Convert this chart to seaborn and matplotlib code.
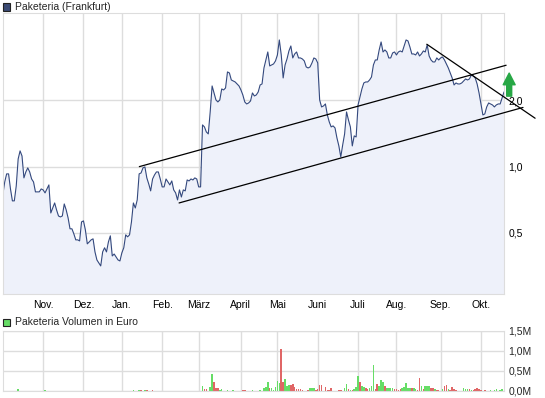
import numpy as np
import pandas as pd
import matplotlib
matplotlib.use('Agg')
import matplotlib.pyplot as plt
import seaborn as sns
from matplotlib.patches import Rectangle

# Schlusskurse je Handelstag (Euro)
price = [
    0.744, 0.852, 0.927, 0.927, 0.792, 0.699, 0.699, 0.817, 1.084, 1.179,
    1.118, 0.889, 0.946, 0.987, 0.946, 0.879, 0.852, 0.768, 0.768, 0.768,
    0.792, 0.784, 0.760, 0.792, 0.826, 0.616, 0.649, 0.684, 0.636, 0.597,
    0.591, 0.597, 0.677, 0.636, 0.585, 0.522, 0.522, 0.495, 0.465, 0.465,
    0.460, 0.561, 0.567, 0.516, 0.446, 0.455, 0.465, 0.470, 0.410, 0.377,
    0.365, 0.354, 0.410, 0.428, 0.410, 0.455, 0.485, 0.393, 0.401, 0.389,
    0.377, 0.373, 0.406, 0.428, 0.490, 0.480, 0.490, 0.561, 0.684, 0.649,
    0.706, 0.927, 0.936, 0.987, 0.997, 0.889, 0.834, 0.776, 0.879, 0.917,
    0.946, 0.946, 0.879, 0.809, 0.809, 0.879, 0.852, 0.826, 0.861, 0.784,
    0.760, 0.706, 0.784, 0.728, 0.784, 0.776, 0.870, 0.861, 0.879, 0.870,
    0.889, 0.879, 0.809, 0.809, 1.547, 1.515, 1.437, 1.408, 1.772, 2.325,
    2.161, 2.008, 1.967, 2.008, 2.253, 2.230, 2.277, 2.692, 2.664, 2.475,
    2.450, 2.424, 2.374, 2.325, 2.230, 2.116, 1.967, 1.926, 1.946, 1.987,
    2.161, 2.094, 2.116, 2.183, 2.349, 2.374, 2.806, 3.051, 3.317, 2.866,
    2.896, 2.927, 3.020, 3.215, 3.761, 3.215, 2.528, 2.896, 3.083, 3.352,
    3.532, 3.116, 3.249, 3.317, 3.116, 3.116, 3.083, 3.020, 2.836, 2.806,
    2.836, 2.957, 3.116, 3.083, 2.957, 2.008, 1.867, 1.886, 1.926, 1.717,
    1.596, 1.515, 1.531, 1.499, 1.350, 1.242, 1.107, 1.255, 1.408, 1.772,
    1.629, 1.515, 1.242, 1.379, 1.364, 1.906, 2.072, 2.253, 2.399, 2.424,
    2.424, 2.475, 2.554, 2.896, 3.051, 3.051, 3.388, 3.683, 3.317, 3.388,
    3.317, 3.116, 3.116, 3.283, 3.317, 3.215, 3.317, 3.352, 3.317, 3.532,
    3.761, 3.722, 3.495, 3.249, 3.249, 3.215, 3.317, 3.181, 3.249, 3.352,
    3.317, 3.570, 3.181, 3.051, 2.988, 2.988, 3.116, 3.051, 3.116, 3.148,
    3.051, 2.927, 2.806, 2.664, 2.528, 2.349, 2.399, 2.374, 2.374, 2.399,
    2.450, 2.502, 2.475, 2.502, 2.608, 2.581, 2.528, 2.374, 2.161, 1.926,
    1.717, 1.735, 1.867, 1.946, 1.926, 1.906, 1.867, 1.906, 1.926, 1.926,
    2.051, 2.183,
]

month_labels = ['Nov.', 'Dez.', 'Jan.', 'Feb.', 'März', 'April', 'Mai',
                'Juni', 'Juli', 'Aug.', 'Sep.', 'Okt.']
month_pos = [21, 42, 62, 83, 102, 124, 143, 164, 185, 205, 228, 249]

price_ticks = [0.5, 1.0, 2.0]
price_tick_labels = ['0,5', '1,0', '2,0']

# Umsatz in Mio. Euro, nur Tage mit sichtbarem Balken
vol_days = [8, 22, 68, 71, 72, 74, 75, 78,
            104, 105, 106, 108, 109, 110, 111, 112, 113, 114, 117, 120,
            125, 126, 130, 134,
            136, 137, 138, 139, 140, 141, 142, 143, 144, 145, 146, 147, 148,
            149, 150, 151, 152, 153, 154, 155, 156,
            159, 160, 161, 162, 163, 164, 165, 166, 168, 169, 170, 171,
            175, 176, 178, 179, 180, 181, 182, 183, 184, 185, 186, 187, 188,
            189, 190, 191, 192, 193, 194, 195, 196, 197, 198, 199, 200, 201,
            202, 203, 204, 205, 206, 207, 208, 209, 210, 211, 212, 213, 214,
            215, 216, 217, 218, 219, 220, 221, 222, 223, 224, 225, 226, 227,
            229, 230, 231, 232, 233, 234, 235, 236,
            240, 241, 242, 243, 244, 245, 246, 247, 248, 249, 251,
            254, 256, 257, 259, 260]
vol_mio = [0.04, 0.02, 0.025, 0.02, 0.02, 0.02, 0.025, 0.02,
           0.133, 0.058, 0.058, 0.108, 0.417, 0.233, 0.083, 0.083, 0.033, 0.058, 0.033, 0.033,
           0.033, 0.033, 0.033, 0.033,
           0.067, 0.10, 0.233, 0.083, 0.067, 0.017, 0.108, 0.25, 0.19, 1.033, 0.233, 0.30, 0.125,
           0.142, 0.142, 0.175, 0.092, 0.058, 0.058, 0.058, 0.025,
           0.025, 0.083, 0.083, 0.083, 0.033, 0.058, 0.158, 0.158, 0.108, 0.033, 0.033, 0.067,
           0.033, 0.033, 0.067, 0.167, 0.058, 0.033, 0.033, 0.058, 0.10, 0.367, 0.233, 0.125, 0.10,
           0.067, 0.058, 0.083, 0.125, 0.633, 0.058, 0.167, 0.117, 0.283, 0.233, 0.133, 0.067,
           0.083, 0.083, 0.083, 0.058, 0.058, 0.033, 0.058, 0.067, 0.092, 0.19, 0.083, 0.083, 0.083,
           0.083, 0.058, 0.033, 0.317, 0.117, 0.058, 0.117, 0.117, 0.117, 0.083, 0.083, 0.058, 0.033,
           0.033, 0.058, 0.117, 0.142, 0.058, 0.033, 0.10, 0.058, 0.033,
           0.083, 0.058, 0.058, 0.058, 0.033, 0.033, 0.058, 0.083, 0.058, 0.033, 0.033,
           0.033, 0.033, 0.058, 0.033, 0.058]
vol_up = [1, 1, 1, 1, 0, 1, 0, 0,
          1, 0, 0, 1, 1, 0, 0, 0, 1, 1, 1, 1,
          0, 0, 1, 1,
          1, 1, 1, 0, 1, 1, 1, 1, 1, 0, 0, 1, 1,
          1, 0, 0, 0, 0, 0, 0, 0,
          0, 1, 1, 1, 0, 0, 0, 0, 0, 0, 0, 0,
          0, 0, 1, 1, 0, 1, 0, 1, 1, 1, 0, 1, 1,
          0, 0, 1, 1, 1, 0, 0, 1, 1, 1, 0, 1,
          1, 1, 1, 0, 0, 0, 0, 1, 1, 1, 1, 1, 0,
          1, 1, 0, 0, 1, 0, 1, 1, 1, 0, 0, 1, 0,
          0, 1, 0, 0, 1, 0, 0, 0, 0,
          1, 1, 1, 0, 1, 0, 0, 0, 0, 0, 0,
          1, 1, 1, 1, 1]

vol_ticks = [0, 0.5, 1.0, 1.5]
vol_tick_labels = ['0,0M', '0,5M', '1,0M', '1,5M']

# Trendlinien (Handelstag, Kurs) Anfang/Ende
channel_top = ([71.1, 262.1], [1.0, 2.887])
channel_bottom = ([91.8, 270.9], [0.684, 1.857])
down_line = ([220.8, 277.2], [3.596, 1.659])
signal_arrow = (263.7, 2.09, 2.66)

df = pd.DataFrame({'tag': np.arange(len(price)), 'kurs': price})
vol = pd.DataFrame({'tag': vol_days, 'mio': vol_mio, 'up': vol_up})

sns.set_style('white')
plt.rcParams['font.family'] = ['Liberation Sans', 'DejaVu Sans']

W, H = 545, 398
fig = plt.figure(figsize=(W / 100, H / 100), dpi=100)
ax = fig.add_axes([2.8 / W, 1 - 294 / H, 501.2 / W, 280.7 / H])
axv = fig.add_axes([2.8 / W, 1 - 391 / H, 501.2 / W, 60.5 / H])

grid_c = '#dddddd'
line_c = '#34497e'
fill_c = '#eef1fa'

ax.fill_between(df['tag'], df['kurs'], 0.1, color=fill_c, lw=0)
sns.lineplot(data=df, x='tag', y='kurs', ax=ax, color=line_c, lw=0.8)

ax.set_yscale('log')
ax.set_ylim(0.264, 4.97)
ax.set_xlim(0, 261)
ax.set_yticks(price_ticks)
ax.set_yticklabels(price_tick_labels)
ax.minorticks_off()
ax.set_xticks(month_pos)
ax.set_xticklabels(month_labels)
ax.yaxis.tick_right()
ax.tick_params(length=0, labelsize=7.5, colors='#000000')
ax.tick_params(axis='y', pad=3)
ax.tick_params(axis='x', pad=4)
ax.grid(True, color=grid_c, lw=1)
ax.set_axisbelow(True)
ax.set_xlabel('')
ax.set_ylabel('')
for s in ax.spines.values():
    s.set_color(grid_c)

for xs, ys in (channel_top, channel_bottom, down_line):
    ax.plot(xs, ys, color='black', lw=0.9, clip_on=False, zorder=5)

ax.annotate('', xy=(signal_arrow[0], signal_arrow[2]),
            xytext=(signal_arrow[0], signal_arrow[1]),
            arrowprops=dict(facecolor='#27a745', edgecolor='#27a745',
                            width=3.6, headwidth=8.6, headlength=8.4, shrink=0),
            annotation_clip=False, zorder=6)

# Volumen
colors = ['#66dd66' if u else '#e06666' for u in vol['up']]
axv.bar(vol['tag'], vol['mio'], width=0.8, color=colors, lw=0, antialiased=False)
axv.set_xlim(0, 261)
axv.set_ylim(0, 1.5)
axv.set_yticks(vol_ticks)
axv.set_yticklabels(vol_tick_labels)
axv.set_xticks(month_pos)
axv.set_xticklabels([])
axv.yaxis.tick_right()
axv.tick_params(length=0, labelsize=7.5)
axv.tick_params(axis='y', pad=3)
axv.grid(True, color=grid_c, lw=1)
axv.set_axisbelow(True)
for s in axv.spines.values():
    s.set_color(grid_c)

# Legenden
fig.patches.append(Rectangle((3 / W, 1 - 10.5 / H), 7 / W, 7 / H, transform=fig.transFigure,
                             facecolor='#3b4a74', edgecolor='#222222', lw=0.8))
fig.text(15 / W, 1 - 7 / H, 'Paketeria (Frankfurt)', fontsize=7.5, va='center', ha='left')
fig.patches.append(Rectangle((3 / W, 1 - 325.5 / H), 7 / W, 7 / H, transform=fig.transFigure,
                             facecolor='#66dd66', edgecolor='#222222', lw=0.8))
fig.text(15 / W, 1 - 322 / H, 'Paketeria Volumen in Euro', fontsize=7.5, va='center', ha='left')

fig.savefig('out.png', dpi=100)
